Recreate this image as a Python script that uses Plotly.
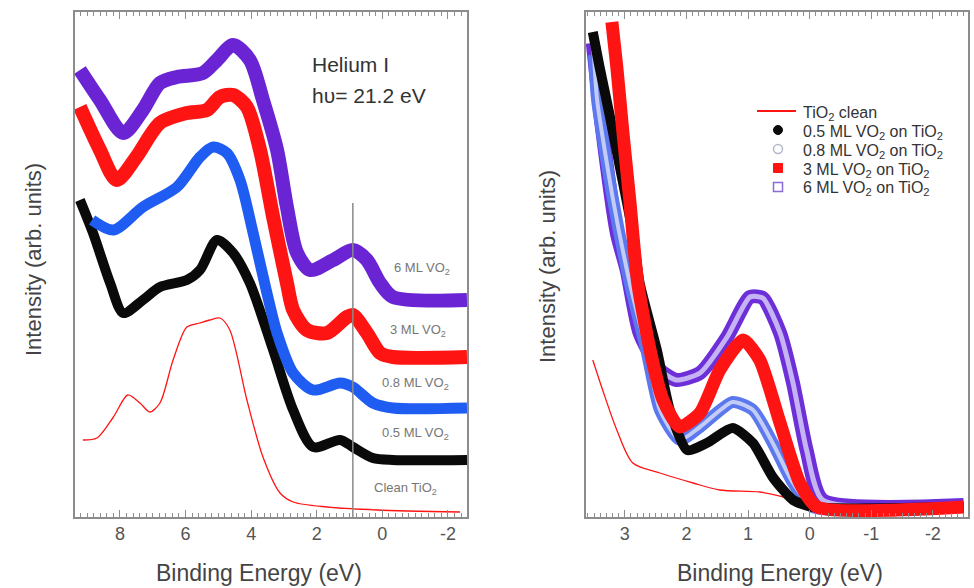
import plotly.graph_objects as go

# ---------------- Left panel: valence band spectra (He I) ----------------
E_6ml = [9.22, 8.61, 7.9, 7.3, 6.78, 6.26, 5.47, 5.04, 4.55, 4.04, 3.64, 3.21, 2.91, 2.6, 2.2, 1.5, 0.9, 0.47, 0.07, -0.32, -2.58]
I_6ml = [89.4, 83.4, 76.8, 81.4, 86.8, 88.0, 88.8, 91.4, 94.4, 91.4, 83.4, 73.4, 62.0, 52.8, 49.4, 51.4, 53.4, 51.4, 46.8, 44.0, 43.4]

E_3ml = [9.22, 8.61, 8.1, 7.5, 6.78, 5.96, 5.35, 4.95, 4.55, 4.13, 3.73, 3.33, 2.91, 2.72, 2.3, 1.69, 1.08, 0.9, 0.47, 0.07, -0.32, -2.58]
I_3ml = [82.0, 73.4, 67.4, 72.0, 78.8, 80.8, 81.4, 84.0, 84.4, 82.0, 73.4, 60.0, 46.8, 41.4, 37.4, 36.8, 40.0, 40.4, 36.8, 32.8, 32.0, 32.0]

E_08ml = [8.85, 8.2, 7.3, 6.26, 5.56, 5.16, 4.74, 4.34, 3.94, 3.52, 3.21, 2.72, 2.11, 1.29, 0.9, 0.29, -0.32, -2.58]
I_08ml = [59.4, 57.4, 62.0, 66.0, 72.0, 74.0, 72.8, 67.4, 56.8, 44.8, 36.8, 28.8, 25.4, 26.8, 26.0, 22.8, 21.8, 21.8]

E_05ml = [9.22, 8.82, 8.3, 7.9, 7.3, 6.78, 5.96, 5.56, 5.04, 4.55, 4.04, 3.33, 2.72, 2.11, 1.29, 0.9, 0.29, -0.32, -2.58]
I_05ml = [63.4, 56.8, 46.8, 40.8, 43.4, 46.0, 47.4, 49.4, 55.4, 52.8, 46.8, 33.4, 21.4, 14.0, 15.4, 14.0, 11.8, 11.4, 11.4]

E_clean = [9.13, 8.7, 8.2, 7.76, 7.39, 7.09, 6.78, 6.38, 5.96, 5.56, 5.26, 4.95, 4.65, 4.13, 3.64, 3.12, 2.72, 1.69, 0.16, -2.37]
I_clean = [15.4, 15.8, 20.0, 24.4, 22.8, 21.0, 22.8, 31.4, 38.0, 38.8, 39.4, 39.8, 37.4, 23.4, 12.0, 4.8, 3.0, 2.0, 1.4, 1.0]

# Fermi-edge marker line position (eV) and its top intensity
E_marker = 0.9
I_marker_top = 62.8

# ---------------- Right panel: band-gap region ----------------
Eg_05ml = [3.52, 3.41, 3.24, 3.08, 2.87, 2.76, 2.48, 2.27, 1.99, 1.67, 1.25, 0.92, 0.6, 0.27, -0.05, -2.5]
Ig_05ml = [97.0, 90.0, 80.0, 70.0, 56.8, 46.8, 33.4, 21.4, 13.4, 14.8, 17.8, 14.8, 8.0, 3.4, 2.0, 2.0]

Eg_08ml = [3.5, 3.45, 3.19, 2.92, 2.65, 2.43, 2.11, 1.78, 1.25, 0.92, 0.6, 0.27, -0.05, -2.5]
Ig_08ml = [92.4, 83.4, 63.4, 46.8, 33.4, 21.4, 15.4, 18.0, 23.0, 21.4, 14.8, 6.8, 2.0, 2.0]

Eg_3ml = [3.21, 3.13, 3.03, 2.92, 2.79, 2.59, 2.38, 2.11, 1.78, 1.46, 1.08, 0.81, 0.48, 0.16, -0.12, -2.5]
Ig_3ml = [99.0, 90.0, 76.8, 63.4, 46.8, 33.4, 23.4, 18.0, 20.8, 29.4, 35.4, 31.4, 18.8, 6.8, 2.0, 2.0]

Eg_6ml = [3.52, 3.36, 3.13, 2.97, 2.76, 2.43, 2.16, 1.78, 1.34, 0.97, 0.76, 0.48, 0.27, 0.05, -0.21, -2.5]
Ig_6ml = [94.8, 76.8, 56.8, 49.4, 36.8, 29.4, 27.4, 28.8, 36.0, 44.0, 43.8, 36.8, 26.8, 13.4, 3.4, 2.4]

Eg_clean = [3.52, 3.36, 3.13, 2.87, 2.43, 1.89, 1.46, 0.81, 0.37, -0.05]
Ig_clean = [31.4, 25.4, 17.4, 10.8, 8.8, 6.8, 5.4, 5.0, 3.8, 2.0]

# ---------------- Labels ----------------
left_labels = ["6 ML VO<sub>2</sub>", "3 ML VO<sub>2</sub>", "0.8 ML VO<sub>2</sub>", "0.5 ML VO<sub>2</sub>", "Clean TiO<sub>2</sub>"]
left_label_I = [49.8, 37.4, 26.8, 16.8, 5.8]
left_label_E = [-1.2, -1.1, -1.0, -1.0, -0.7]

legend_names = ["TiO<sub>2</sub> clean", "0.5 ML VO<sub>2</sub> on TiO<sub>2</sub>", "0.8 ML VO<sub>2</sub> on TiO<sub>2</sub>",
                "3 ML VO<sub>2</sub> on TiO<sub>2</sub>", "6 ML VO<sub>2</sub> on TiO<sub>2</sub>"]

PURPLE = "#6a24d4"
RED = "#ff1414"
BLUE = "#1f5cf2"
BLACK = "#0a0a0a"
FONT = "Arial, Liberation Sans, sans-serif"
TXT = "#444"

W, H = 974, 588
xl_dom = [75 / W, 467 / W]
xr_dom = [586 / W, 968 / W]
y_dom = [1 - 517 / H, 1 - 12 / H]


def px(x):
    return x / W


def py(y):
    return 1 - y / H


fig = go.Figure()


def band(x, y, color, width, xa, ya, inner=None, inner_w=0, smooth=0.8):
    fig.add_trace(go.Scatter(x=x, y=y, mode="lines", xaxis=xa, yaxis=ya, showlegend=False,
                             line=dict(color=color, width=width, shape="spline", smoothing=smooth)))
    if inner:
        fig.add_trace(go.Scatter(x=x, y=y, mode="lines", xaxis=xa, yaxis=ya, showlegend=False,
                                 line=dict(color=inner, width=inner_w, shape="spline", smoothing=smooth)))


# left panel
band(E_clean, I_clean, RED, 1.3, "x", "y")
band(E_05ml, I_05ml, BLACK, 10, "x", "y")
band(E_08ml, I_08ml, BLUE, 11, "x", "y")
band(E_3ml, I_3ml, RED, 14, "x", "y")
band(E_6ml, I_6ml, PURPLE, 14, "x", "y")

fig.add_trace(go.Scatter(x=[E_marker, E_marker], y=[0, I_marker_top], mode="lines", xaxis="x", yaxis="y",
                         showlegend=False, line=dict(color="#8a8a8a", width=1.5)))

# right panel
band(Eg_clean, Ig_clean, RED, 1.3, "x2", "y2")
band(Eg_6ml, Ig_6ml, "#6d2fd8", 14, "x2", "y2", inner="#c6b3f3", inner_w=5, smooth=0.6)
band(Eg_08ml, Ig_08ml, "#5c78ee", 12, "x2", "y2", inner="#c2ccf6", inner_w=4, smooth=0.6)
band(Eg_05ml, Ig_05ml, BLACK, 10, "x2", "y2", smooth=0.6)
band(Eg_3ml, Ig_3ml, RED, 13, "x2", "y2", smooth=0.6)

# legend box (symbols + text) in the right panel
leg_rows = [111, 130, 149, 168, 187]
sym_x, r = 778, 4.5
shapes = [
    dict(type="line", xref="paper", yref="paper", x0=px(757), x1=px(796), y0=py(leg_rows[0]), y1=py(leg_rows[0]),
         line=dict(color=RED, width=2.2)),
    dict(type="circle", xref="paper", yref="paper", x0=px(sym_x - r), x1=px(sym_x + r),
         y0=py(leg_rows[1] + r), y1=py(leg_rows[1] - r), fillcolor=BLACK, line=dict(color=BLACK, width=1)),
    dict(type="circle", xref="paper", yref="paper", x0=px(sym_x - r), x1=px(sym_x + r),
         y0=py(leg_rows[2] + r), y1=py(leg_rows[2] - r), fillcolor="white", line=dict(color="#b4b8cc", width=1.5)),
    dict(type="rect", xref="paper", yref="paper", x0=px(sym_x - r), x1=px(sym_x + r),
         y0=py(leg_rows[3] + r), y1=py(leg_rows[3] - r), fillcolor=RED, line=dict(color=RED, width=1)),
    dict(type="rect", xref="paper", yref="paper", x0=px(sym_x - r), x1=px(sym_x + r),
         y0=py(leg_rows[4] + r), y1=py(leg_rows[4] - r), fillcolor="white", line=dict(color="#8b6bd6", width=1.5)),
]

axis_common = dict(showline=True, linecolor="#8c8c8c", linewidth=1.5, mirror="allticks",
                   ticks="inside", ticklen=7, tickcolor="#8c8c8c", tickwidth=1.2,
                   showgrid=False, zeroline=False,
                   tickfont=dict(family=FONT, size=18, color="#555"))

annotations = []
for txt, xe, yi in zip(left_labels, left_label_E, left_label_I):
    annotations.append(dict(x=xe, y=yi, xref="x", yref="y", text=txt, showarrow=False,
                            font=dict(family=FONT, size=13, color="#777")))
for txt, yrow in zip(legend_names, leg_rows):
    annotations.append(dict(x=px(801), y=py(yrow + 2), xref="paper", yref="paper", xanchor="left", yanchor="middle",
                            text=txt, showarrow=False, font=dict(family=FONT, size=16, color="#333")))
annotations += [
    dict(x=px(310), y=py(65), xref="paper", yref="paper", xanchor="left", yanchor="middle",
         text="Helium I", showarrow=False, font=dict(family=FONT, size=21, color="#333")),
    dict(x=px(310), y=py(95), xref="paper", yref="paper", xanchor="left", yanchor="middle",
         text="h\u03c5= 21.2 eV", showarrow=False, font=dict(family=FONT, size=21, color="#333")),
    dict(x=px(33), y=py(260), xref="paper", yref="paper", xanchor="center", yanchor="middle",
         text="Intensity (arb. units)", textangle=-90,
         showarrow=False, font=dict(family=FONT, size=22, color=TXT)),
    dict(x=px(547), y=py(267), xref="paper", yref="paper", xanchor="center", yanchor="middle",
         text="Intensity (arb. units)", textangle=-90,
         showarrow=False, font=dict(family=FONT, size=22, color=TXT)),
    dict(x=px(259), y=py(573), xref="paper", yref="paper", xanchor="center", yanchor="middle",
         text="Binding Energy (eV)", showarrow=False, font=dict(family=FONT, size=23, color=TXT)),
    dict(x=px(780), y=py(573), xref="paper", yref="paper", xanchor="center", yanchor="middle",
         text="Binding Energy (eV)", showarrow=False, font=dict(family=FONT, size=23, color=TXT)),
]

fig.update_layout(
    width=W, height=H, margin=dict(l=0, r=0, t=0, b=0),
    paper_bgcolor="white", plot_bgcolor="white", showlegend=False,
    xaxis=dict(domain=xl_dom, range=[9.37, -2.58], tickvals=[8, 6, 4, 2, 0, -2],
               ticktext=["8", "6", "4", "2", "0", "-2"],
               minor=dict(dtick=0.2, ticks="inside", ticklen=4, tickcolor="#8c8c8c"),
               anchor="y", **axis_common),
    yaxis=dict(domain=y_dom, range=[0, 101], showline=True, linecolor="#8c8c8c", linewidth=1.5,
               mirror=True, showticklabels=False, ticks="", showgrid=False, zeroline=False, anchor="x"),
    xaxis2=dict(domain=xr_dom, range=[3.63, -2.57], tickvals=[3, 2, 1, 0, -1, -2],
                ticktext=["3", "2", "1", "0", "-1", "-2"],
                minor=dict(dtick=0.1, ticks="inside", ticklen=4, tickcolor="#8c8c8c"),
                anchor="y2", **axis_common),
    yaxis2=dict(domain=y_dom, range=[0, 101], showline=True, linecolor="#8c8c8c", linewidth=1.5,
                mirror=True, showticklabels=False, ticks="", showgrid=False, zeroline=False, anchor="x2"),
    shapes=shapes,
    annotations=annotations,
)

fig.write_html("out.html")
